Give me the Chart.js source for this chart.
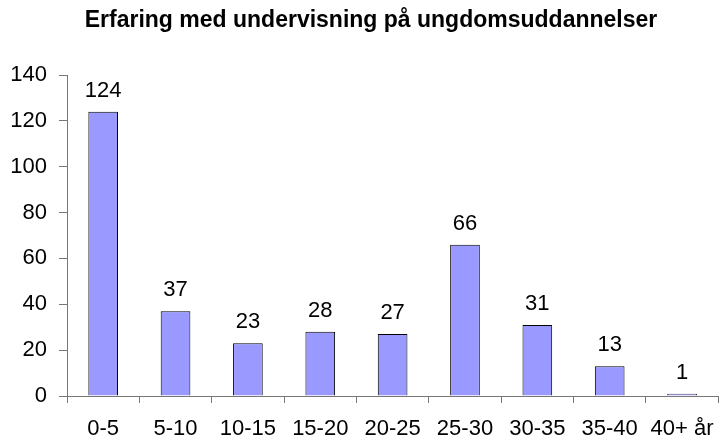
<!DOCTYPE html>
<html lang="da">
<head>
<meta charset="UTF-8">
<title>Erfaring med undervisning</title>
<script src="https://cdn.jsdelivr.net/npm/chart.js"></script>
<style>
  html, body { margin: 0; padding: 0; background: #fff; overflow: hidden; }
  canvas { display: block; }
</style>
</head>
<body>
  <canvas id="chart" width="727" height="443"></canvas>
  <script>
    const title = 'Erfaring med undervisning på ungdomsuddannelser';
    const categories = ['0-5', '5-10', '10-15', '15-20', '20-25', '25-30', '30-35', '35-40', '40+ år'];
    const values = [124, 37, 23, 28, 27, 66, 31, 13, 1];
    const yTicks = [0, 20, 40, 60, 80, 100, 120, 140];

    const FONT = '"Liberation Sans", Arial, sans-serif';
    const axisColor = '#777';

    // title + value labels drawn by hand
    const labelsPlugin = {
      id: 'labels',
      afterDatasetsDraw(chart) {
        const ctx = chart.ctx;
        ctx.save();
        ctx.fillStyle = '#000';
        ctx.textAlign = 'center';
        ctx.textBaseline = 'middle';
        ctx.font = 'bold 23px ' + FONT;
        ctx.fillText(title, 371, 21);
        ctx.font = '22px ' + FONT;
        chart.getDatasetMeta(0).data.forEach((bar, i) => {
          ctx.fillText(String(values[i]), bar.x, bar.y - 21);
        });
        ctx.restore();
      }
    };

    const ctx = document.getElementById('chart').getContext('2d');
    const chart = new Chart(ctx, {
      type: 'bar',
      data: {
        labels: categories,
        datasets: [{
          data: values,
          backgroundColor: '#9999FF',
          borderColor: '#000',
          borderWidth: 1,
          barPercentage: 0.41,
          categoryPercentage: 1.0,
        }]
      },
      options: {
        responsive: false,
        animation: false,
        devicePixelRatio: 1,
        layout: { padding: { top: 75, right: 8, left: 0, bottom: 0 } },
        scales: {
          x: {
            grid: { drawOnChartArea: false, drawTicks: true, tickLength: 7, color: axisColor, offset: true },
            border: { color: axisColor, width: 1 },
            ticks: { color: '#000', font: { family: FONT, size: 22 }, padding: 13, maxRotation: 0, autoSkip: false },
            afterFit(scale) { scale.height = 47; }
          },
          y: {
            min: 0,
            max: 140,
            afterBuildTicks(scale) { scale.ticks = yTicks.map(v => ({ value: v })); },
            grid: { drawOnChartArea: false, drawTicks: true, tickLength: 8, color: axisColor },
            border: { color: axisColor, width: 1 },
            ticks: { color: '#000', font: { family: FONT, size: 22 }, padding: 12 },
            afterFit(scale) { scale.width = 67; }
          }
        },
        plugins: {
          legend: { display: false },
          tooltip: { enabled: false },
          title: { display: false }
        }
      },
      plugins: [labelsPlugin]
    });
  </script>
</body>
</html>
